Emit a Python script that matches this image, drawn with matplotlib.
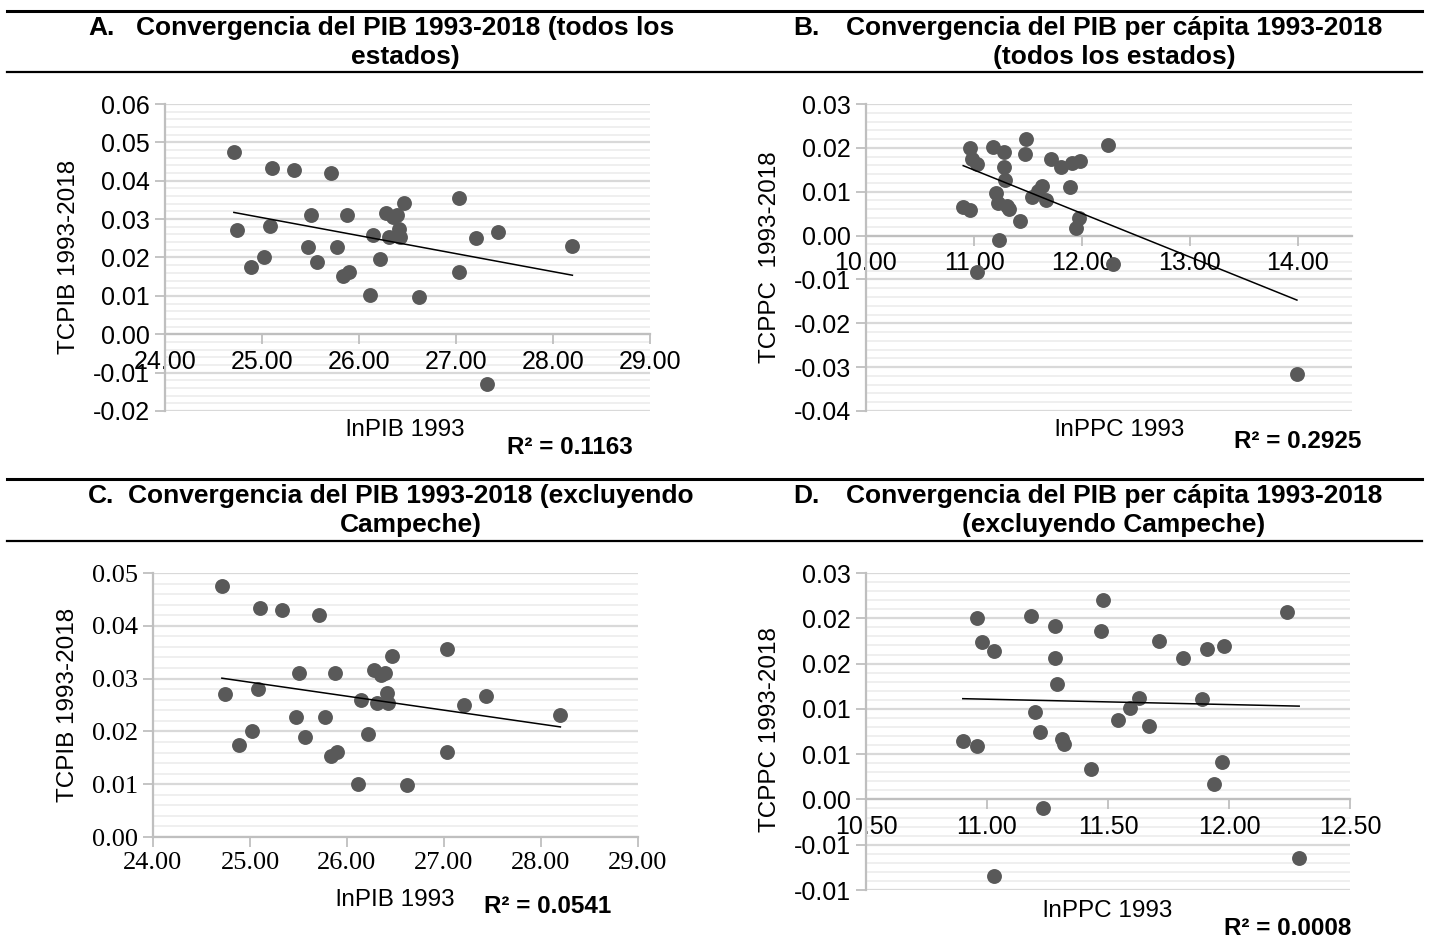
import numpy as np
import matplotlib
matplotlib.use("Agg")
import matplotlib.pyplot as plt
from matplotlib.ticker import MultipleLocator, FormatStrFormatter
from matplotlib.lines import Line2D

# Datos: 31 estados (sin Campeche) + Campeche aparte
pib_x = [24.71, 24.74, 24.89, 25.02, 25.08, 25.10, 25.33, 25.47, 25.51, 25.57,
         25.71, 25.77, 25.84, 25.88, 25.90, 26.11, 26.14, 26.22, 26.28, 26.31,
         26.35, 26.39, 26.41, 26.42, 26.46, 26.62, 27.03, 27.03, 27.21, 27.43, 28.20]
pib_y = [0.0475, 0.0271, 0.0175, 0.0200, 0.0281, 0.0433, 0.0429, 0.0227, 0.0310, 0.0189,
         0.0420, 0.0227, 0.0153, 0.0311, 0.0161, 0.0101, 0.0259, 0.0196, 0.0317, 0.0254,
         0.0306, 0.0310, 0.0273, 0.0253, 0.0343, 0.0098, 0.0356, 0.0161, 0.0250, 0.0267, 0.0231]
ppc_x = [10.90, 10.96, 10.96, 10.98, 11.03, 11.03, 11.18, 11.20, 11.22, 11.23,
         11.28, 11.28, 11.29, 11.31, 11.32, 11.43, 11.48, 11.47, 11.54, 11.59,
         11.63, 11.67, 11.71, 11.81, 11.89, 11.91, 11.94, 11.97, 11.98, 12.24, 12.29]
ppc_y = [0.0065, 0.0059, 0.0200, 0.0174, 0.0164, -0.0084, 0.0202, 0.0096, 0.0075, -0.0009,
         0.0191, 0.0156, 0.0127, 0.0067, 0.0061, 0.0034, 0.0220, 0.0186, 0.0088, 0.0101,
         0.0112, 0.0081, 0.0175, 0.0156, 0.0111, 0.0166, 0.0017, 0.0041, 0.0169, 0.0207, -0.0065]
campeche_pib = (27.32, -0.0129)
campeche_ppc = (13.99, -0.0315)

titles = [
    ("A.", "Convergencia del PIB 1993-2018 (todos los", "estados)"),
    ("B.", "Convergencia del PIB per cápita 1993-2018", "(todos los estados)"),
    ("C.", "Convergencia del PIB 1993-2018 (excluyendo", "Campeche)"),
    ("D.", "Convergencia del PIB per cápita 1993-2018", "(excluyendo Campeche)"),
]
r2_texts = ["R² = 0.1163", "R² = 0.2925", "R² = 0.0541", "R² = 0.0008"]
d_yticks = [-0.01, -0.005, 0.0, 0.005, 0.01, 0.015, 0.02, 0.025]
d_ylabels = ["-0.01", "-0.01", "0.00", "0.01", "0.01", "0.02", "0.02", "0.03"]

W, H = 1429, 938
plt.rcParams['font.family'] = ['Liberation Sans', 'DejaVu Sans']
fig = plt.figure(figsize=(W / 100, H / 100), dpi=100)

def rect(l, t, r, b):
    return [l / W, 1 - b / H, (r - l) / W, (b - t) / H]

def ftext(x, y, s, **kw):
    fig.text(x / W, 1 - y / H, s, **kw)

def hline(x0, x1, y, lw):
    fig.add_artist(Line2D([x0 / W, x1 / W], [1 - y / H, 1 - y / H],
                          color='black', lw=lw, transform=fig.transFigure))

GRID = '#d9d9d9'
MINOR = '#efefef'
SPINE = '#bfbfbf'
DOT = '#595959'

def panel(pos, x, y, xlim, xstep, ylim, ystep, zero_axis, tick_font='Liberation Sans', tick_size=18):
    ax = fig.add_axes(rect(*pos))
    ax.scatter(x, y, s=115, color=DOT, zorder=3, linewidths=0)
    coef = np.polyfit(x, y, 1)
    xs = np.array([min(x), max(x)])
    ax.plot(xs, np.polyval(coef, xs), color='black', lw=1.1, zorder=4)
    ax.set_xlim(*xlim)
    ax.set_ylim(*ylim)
    # lineas de cuadricula dibujadas a mano para que queden bajo las etiquetas
    n_minor = int(round((ylim[1] - ylim[0]) / (ystep / 5)))
    for i in range(n_minor + 1):
        yv = ylim[0] + i * ystep / 5
        major = i % 5 == 0
        ax.axhline(yv, color=GRID if major else MINOR, lw=1.6 if major else 1.4, zorder=0.5)
    ax.xaxis.set_major_locator(MultipleLocator(xstep))
    ax.yaxis.set_major_locator(MultipleLocator(ystep))
    ax.xaxis.set_major_formatter(FormatStrFormatter('%.2f'))
    ax.yaxis.set_major_formatter(FormatStrFormatter('%.2f'))
    for s in ('top', 'right'):
        ax.spines[s].set_visible(False)
    ax.spines['left'].set_color(SPINE)
    ax.spines['left'].set_linewidth(1.6)
    ax.spines['bottom'].set_color(SPINE)
    ax.spines['bottom'].set_linewidth(1.6)
    if zero_axis:
        ax.spines['bottom'].set_position(('data', 0))
    ax.tick_params(axis='both', which='major', direction='out', length=7, width=1.3,
                   color=SPINE, labelsize=tick_size, pad=4)
    for lab in ax.get_xticklabels() + ax.get_yticklabels():
        lab.set_family(tick_font)
        lab.set_color('black')
    return ax

all_pib_x = pib_x + [campeche_pib[0]]
all_pib_y = pib_y + [campeche_pib[1]]
all_ppc_x = ppc_x + [campeche_ppc[0]]
all_ppc_y = ppc_y + [campeche_ppc[1]]

axA = panel((165, 104, 650, 411), all_pib_x, all_pib_y, (24, 29), 1, (-0.02, 0.06), 0.01, True)
axB = panel((866, 104, 1352, 411), all_ppc_x, all_ppc_y, (10, 14.5), 1, (-0.04, 0.03), 0.01, True)
axC = panel((153, 573, 638, 837), pib_x, pib_y, (24, 29), 1, (0, 0.05), 0.01, False,
            tick_font='Liberation Serif', tick_size=19)
axD = panel((866, 573, 1350, 890), ppc_x, ppc_y, (10.5, 12.5), 0.5, (-0.01, 0.025), 0.005, True)
axD.set_yticks(d_yticks)
axD.set_yticklabels(d_ylabels, family='Liberation Sans', fontsize=18)

# Encabezados con lineas
for y_top, y_bot in ((11, 72), (479, 541)):
    hline(7, 1422, y_top, 2.2)
    hline(7, 1422, y_bot, 1.6)

title_pos = [(88, 405, 28, 57), (793, 1114, 28, 57), (88, 411, 496, 525), (793, 1114, 496, 525)]
for (letter, l1, l2), (xl, xc, y1, y2) in zip(titles, title_pos):
    ftext(xl, y1, letter, ha='left', va='center', fontsize=19, fontweight='bold')
    ftext(xc, y1, l1, ha='center', va='center', fontsize=19, fontweight='bold')
    ftext(xc, y2, l2, ha='center', va='center', fontsize=19, fontweight='bold')

# Etiquetas de ejes
ylabels = [("TCPIB 1993-2018", 69, 257), ("TCPPC  1993-2018", 770, 257),
           ("TCPIB 1993-2018", 68, 705), ("TCPPC 1993-2018", 770, 730)]
for s, x, y in ylabels:
    ftext(x, y, s, rotation=90, ha='center', va='center', fontsize=17.5)

xlabels = [("lnPIB 1993", 405, 430), ("lnPPC 1993", 1120, 430),
           ("lnPIB 1993", 395, 900), ("lnPPC 1993", 1108, 911)]
for s, x, y in xlabels:
    ftext(x, y, s, ha='center', va='center', fontsize=17.5)

r2_pos = [(570, 447), (1298, 441), (548, 906), (1288, 928)]
for s, (x, y) in zip(r2_texts, r2_pos):
    ftext(x, y, s, ha='center', va='center', fontsize=17.5, fontweight='bold')

fig.savefig("out.png", dpi=100)
